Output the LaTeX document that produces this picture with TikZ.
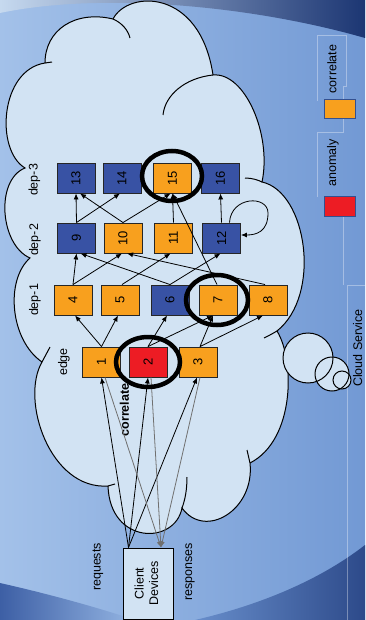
\documentclass[tikz,border=0pt]{standalone}
\usepackage{fontspec}
\setmainfont{Liberation Sans}
\usetikzlibrary{arrows.meta}
\definecolor{cloudc}{HTML}{D2E3F3}
\definecolor{orng}{HTML}{F8A01E}
\definecolor{blu}{HTML}{3852A4}
\definecolor{redc}{HTML}{ED1C24}
\definecolor{greyc}{HTML}{707070}
\definecolor{bgl}{HTML}{A3C1E9}
\definecolor{bgr}{HTML}{7299D4}
\definecolor{navy}{HTML}{1C3673}
\definecolor{topl}{HTML}{C6D9EF}
\definecolor{wavel}{HTML}{3D5FA5}
\definecolor{waver}{HTML}{2D4A8A}
\definecolor{swb}{HTML}{34508F}
\tikzset{
  box/.style={draw=black!85, line width=0.9pt, minimum width=38pt, minimum height=30pt, inner sep=0pt, font=\fontsize{13}{15}\selectfont},
  obox/.style={box, fill=orng},
  bbox/.style={box, fill=blu},
  rbox/.style={box, fill=redc},
  lbl/.style={rotate=90, font=\fontsize{12.5}{15}\selectfont, inner sep=0pt},
  arr/.style={-{Latex[length=6pt,width=5pt]}, line width=0.8pt, black},
  resp/.style={arr, greyc},
  ring/.style={line width=4.5pt, black},
  outl/.style={line width=1pt, black},
  frame/.style={white, opacity=0.35, line width=0.8pt}
}
\begin{document}
\begin{tikzpicture}[x=1pt,y=-1pt]
\useasboundingbox (0,0) rectangle (365,620);
% background
\shade[left color=bgl, right color=bgr] (0,0) rectangle (365,620);
\shade[left color=topl, right color=navy] (0,0) -- (0,13) .. controls (100,-8) and (250,5) .. (365,38) -- (365,0) -- cycle;
\shade[left color=wavel, right color=bgl!70!bgr] (0,583) .. controls (40,592) and (90,605) .. (135,620) -- (0,620) -- cycle;
\shade[left color=bgr!80!wavel, right color=waver] (195,620) .. controls (260,605) and (320,580) .. (365,545) -- (365,620) -- cycle;
% legend frames
\draw[frame] (317,101) -- (317,35) -- (346,35) -- (346,86) -- (343,86) -- (343,132) -- (317,132) -- (317,197);
\draw[frame] (343,216) -- (343,285);
\draw[frame] (365,285) -- (347,285) -- (347,620);
% cloud
\path[fill=cloudc, draw=black, line width=1pt] (45,63) .. controls (45,30) and (75,10) .. (113,19)
 .. controls (128,-10) and (200,-12) .. (213,75)
 .. controls (245,72) and (272,135) .. (262,182)
 .. controls (307,192) and (322,295) .. (277,331)
 .. controls (295,360) and (295,440) .. (250,463)
 .. controls (255,510) and (205,540) .. (182,508)
 .. controls (175,545) and (110,545) .. (108,486)
 .. controls (50,490) and (20,400) .. (42,362)
 .. controls (10,340) and (5,280) .. (30,258)
 .. controls (0,245) and (-5,180) .. (25,168)
 .. controls (-5,150) and (0,70) .. (45,63) -- cycle;
\draw[outl] (113,19) .. controls (122,23) and (128,30) .. (130,38);
\draw[outl] (163,115) .. controls (165,95) and (185,78) .. (213,75);
\draw[outl] (245,178) .. controls (252,178) and (258,180) .. (262,182);
\draw[outl] (277,331) .. controls (272,334) and (268,336) .. (264,338);
\draw[outl] (247,450) -- (250,463);
\draw[outl] (187,477) .. controls (187,490) and (185,500) .. (182,508);
\draw[outl] (108,486) -- (115,484);
\draw[outl] (50,347) -- (42,362);
\draw[outl] (45,63) -- (52,62);
% thought bubbles
\fill[cloudc] (308,358) circle[radius=25pt];
\fill[cloudc] (332,374) circle[radius=17pt];
\fill[cloudc] (342,380) circle[radius=9pt];
\draw[outl] (308,358) circle[radius=25pt];
\draw[outl] (332,374) circle[radius=17pt];
\draw[outl] (342,380) circle[radius=9pt];
% legend
\node[draw=swb, line width=0.8pt, fill=orng, minimum width=31pt, minimum height=19pt, inner sep=0pt] (lgo) at (339.5,108.5) {};
\node[draw=swb, line width=0.8pt, fill=redc, minimum width=31pt, minimum height=20pt, inner sep=0pt] (lgr) at (339.5,206) {};
\node[lbl] (lgot) at (332,69) {correlate};
\node[lbl] (lgrt) at (333,163) {anomaly};
\node[lbl, anchor=base] (cs) at (362,348) {Cloud Service};
% boxes
\node[bbox] (b13) at (76,178) {\rotatebox{90}{13}};
\node[bbox] (b14) at (122,178) {\rotatebox{90}{14}};
\node[obox] (b15) at (172.5,178) {\rotatebox{90}{15}};
\node[bbox] (b16) at (220.5,178) {\rotatebox{90}{16}};
\node[bbox] (b9) at (76.5,238) {\rotatebox{90}{9}};
\node[obox] (b10) at (123,238) {\rotatebox{90}{10}};
\node[obox] (b11) at (173.5,238) {\rotatebox{90}{11}};
\node[bbox] (b12) at (221.5,238) {\rotatebox{90}{12}};
\node[obox] (b4) at (73,300) {\rotatebox{90}{4}};
\node[obox] (b5) at (120,300) {\rotatebox{90}{5}};
\node[bbox] (b6) at (170,300) {\rotatebox{90}{6}};
\node[obox] (b7) at (218,300) {\rotatebox{90}{7}};
\node[obox] (b8) at (268,300) {\rotatebox{90}{8}};
\node[obox] (b1) at (101.5,362) {\rotatebox{90}{1}};
\node[rbox] (b2) at (148,362) {\rotatebox{90}{2}};
\node[obox] (b3) at (198,362) {\rotatebox{90}{3}};
\node[draw=black, line width=1pt, fill=cloudc, minimum width=50pt, minimum height=71pt, inner sep=0pt, font=\fontsize{12.5}{14.5}\selectfont] (client) at (148,583.5)
  {\rotatebox{90}{\begin{tabular}{@{}c@{}}Client\\Devices\end{tabular}}};
% labels
\node[lbl] (l3) at (34.5,180) {dep-3};
\node[lbl] (l2) at (35,240) {dep-2};
\node[lbl] (l1) at (35,300) {dep-1};
\node[lbl] (le) at (64,362) {edge};
\node[lbl, font=\fontsize{12.5}{15}\selectfont\bfseries] (lc) at (124.5,410) {correlate};
\node[lbl] (lrq) at (98,567) {requests};
\node[lbl] (lrs) at (190,572) {responses};
% requests and responses
\draw[arr] ([xshift=6pt]client.north west) -- (b1.south);
\draw[arr] ([xshift=6pt]client.north west) -- (b2.south);
\draw[arr] ([xshift=6pt]client.north west) -- ([xshift=-1pt]b3.south);
\draw[resp] ([xshift=3.5pt]b1.south) -- ([xshift=13pt]client.north);
\draw[resp] ([xshift=3pt]b2.south) -- ([xshift=13pt]client.north);
\draw[resp] ([xshift=2pt]b3.south) -- ([xshift=13pt]client.north);
% edge -> dep-1
\draw[arr] (b1.north) -- ([xshift=2pt]b4.south);
\draw[arr] (b1.north) -- ([xshift=-2pt]b5.south);
\draw[arr] (b2.north) -- ([xshift=-3pt]b6.south);
\draw[arr] (b2.north) -- ([xshift=-5pt]b7.south);
\draw[arr] ([xshift=2pt]b3.north) -- ([xshift=-5pt]b7.south);
\draw[arr] ([xshift=2pt]b3.north) -- ([xshift=-5pt]b8.south);
% dep-1 -> dep-2
\draw[arr] (b4.north) -- (b9.south);
\draw[arr] (b4.north) -- ([xshift=-1pt]b10.south);
\draw[arr] ([xshift=2pt]b5.north) -- ([xshift=-3pt]b11.south);
\draw[arr] (b6.north) -- ([xshift=4pt]b9.south);
\draw[arr] (b6.north) -- ([xshift=-1pt]b12.south);
\draw[arr] ([xshift=-3pt]b8.north) -- ([xshift=4pt]b10.south);
\draw[arr] ([xshift=-1pt]b7.north) -- (b15.south);
% dep-2 -> dep-3
\draw[arr] (b9.north) -- (b13.south);
\draw[arr] (b9.north) -- ([xshift=-2pt]b14.south);
\draw[arr] (b10.north) -- ([xshift=4pt]b13.south);
\draw[arr] (b10.north) -- ([xshift=-2pt]b15.south);
\draw[arr] (b11.north) -- (b15.south);
\draw[arr] (b12.north) -- (b16.south);
\draw[arr] ([xshift=8pt]b12.north) .. controls (231,196) and (268,195) .. (268,213) .. controls (268,232) and (256,235) .. ([yshift=3pt]b12.east);
% rings
\draw[ring] (172,176) ellipse [x radius=30pt, y radius=25pt];
\draw[ring] (217,300) ellipse [x radius=31pt, y radius=25pt];
\draw[ring] (148,362) ellipse [x radius=32pt, y radius=25pt];
\end{tikzpicture}
\end{document}
